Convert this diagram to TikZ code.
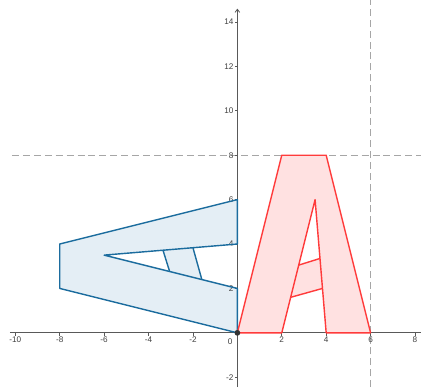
\documentclass[tikz,border=0pt]{standalone}
\usepackage{fontspec}
\setmainfont{Liberation Sans}
\usetikzlibrary{arrows.meta}
\definecolor{letterblue}{HTML}{1B6C9E}
\definecolor{bluefill}{HTML}{E4EEF5}
\definecolor{letterred}{HTML}{FF3B3B}
\definecolor{redfill}{HTML}{FFE1E1}

\begin{document}
\begin{tikzpicture}[
    x=1cm, y=1cm,
    axis/.style={draw=black!65, line width=1pt},
    guide/.style={draw=black!35, line width=1.3pt, dash pattern=on 9pt off 5pt},
    ticklabel/.style={font=\fontsize{10.5}{12}\selectfont, text=black!75, inner sep=1pt},
    blueA/.style={draw=letterblue, line width=1.8pt, line join=round},
    redA/.style={draw=letterred, line width=1.8pt, line join=round}
  ]
  \useasboundingbox (-10.69,-2.45) rectangle (8.27,14.99);

  % vertices of the upright letter
  \coordinate (O) at (0,0);
  \coordinate (rTL) at (2,8);
  \coordinate (rTR) at (4,8);
  \coordinate (rBR) at (6,0);
  \coordinate (rIR) at (4,0);
  \coordinate (rApex) at (3.5,6);
  \coordinate (rIL) at (2,0);
  \coordinate (rL1) at (2.4,1.6);
  \coordinate (rR1) at (3.833,2);
  \coordinate (rL2) at (2.7625,3.05);
  \coordinate (rR2) at (3.72,3.35);
  % vertices of the turned letter
  \coordinate (bTL) at (-8,2);
  \coordinate (bTR) at (-8,4);
  \coordinate (bBR) at (0,6);
  \coordinate (bIR) at (0,4);
  \coordinate (bApex) at (-6,3.5);
  \coordinate (bIL) at (0,2);
  \coordinate (bL1) at (-1.6,2.4);
  \coordinate (bR1) at (-2,3.833);
  \coordinate (bL2) at (-3.05,2.7625);
  \coordinate (bR2) at (-3.35,3.72);

  % fills
  \fill[bluefill] (O) -- (bTL) -- (bTR) -- (bBR) -- (bIR) -- (bApex) -- (bIL) -- cycle;
  \fill[bluefill] (bL1) -- (bR1) -- (bR2) -- (bL2) -- cycle;
  \fill[redfill] (O) -- (rTL) -- (rTR) -- (rBR) -- (rIR) -- (rApex) -- (rIL) -- cycle;
  \fill[redfill] (rL1) -- (rR1) -- (rR2) -- (rL2) -- cycle;

  % dashed guides
  \draw[guide] (-10.15,8) -- (8.27,8);
  \draw[guide] (6,-2.45) -- (6,14.99);

  % axes
  \draw[axis] (-10.24,0) -- (8.27,0);
  \draw[axis, -{Straight Barb[length=4pt, width=6pt]}] (0,-2.45) -- (0,14.6);
  \foreach \x in {-10,-8,-6,-4,-2,2,4,6,8}
    \draw[axis] (\x,0) -- (\x,-0.12) node[ticklabel, anchor=north] {\x};
  \foreach \y in {-2,2,4,6,8,10,12,14}
    \draw[axis] (0,\y) -- (-0.12,\y) node[ticklabel, anchor=east] {\y};
  \node[ticklabel] (zero) at (-0.33,-0.42) {0};

  % outlines
  \draw[blueA] (O) -- (bTL) -- (bTR) -- (bBR) -- (bIR) -- (bApex) -- (bIL) -- cycle;
  \draw[blueA] (bL1) -- (bR1) (bL2) -- (bR2);
  \draw[redA] (O) -- (rTL) -- (rTR) -- (rBR) -- (rIR) -- (rApex) -- (rIL) -- cycle;
  \draw[redA] (rL1) -- (rR1) (rL2) -- (rR2);

  \fill[black!80] (O) circle (0.13);
\end{tikzpicture}
\end{document}
